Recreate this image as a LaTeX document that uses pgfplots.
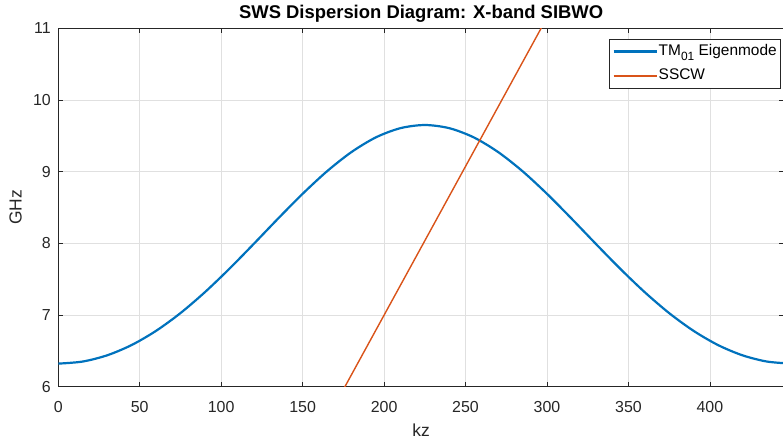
\documentclass[border=0pt]{standalone}
\usepackage{pgfplots}
\pgfplotsset{compat=1.18}
\usepackage{fontspec}
\setmainfont{Liberation Sans}
\definecolor{mblue}{rgb}{0,0.447,0.741}
\definecolor{morange}{rgb}{0.850,0.325,0.098}
\definecolor{axgray}{rgb}{0.15,0.15,0.15}
\begin{document}
\begin{tikzpicture}
\begin{axis}[
  name=ax,
  scale only axis,
  width=726bp, height=358.4bp,
  xmin=0, xmax=445.5, ymin=6, ymax=11,
  xtick={0,50,...,400}, ytick={6,7,...,11},
  grid=major,
  major grid style={color=black!12, line width=0.5bp},
  axis line style={color=axgray, line width=0.6bp},
  tick style={color=axgray, line width=0.6bp},
  tick align=inside,
  major tick length=5bp,
  /pgf/number format/assume math mode=true,
  ticklabel style={font=\fontsize{16}{19}\selectfont, text=axgray},
  xticklabel style={anchor=base, yshift=-26bp},
  yticklabel style={anchor=east, xshift=-4bp},
  title={SWS Dispersion Diagram: X-band SIBWO},
  title style={font=\bfseries\fontsize{18.5}{22}\selectfont, at={(axis description cs:0.5,1)}, anchor=base, yshift=4bp},
  xlabel={kz},
  ylabel={GHz},
  label style={font=\fontsize{17.5}{21}\selectfont, text=axgray},
  xlabel style={at={(axis description cs:0.5,0)}, anchor=base, yshift=-50.3bp},
  ylabel style={at={(axis description cs:0,0.5)}, rotate=0, anchor=base, yshift=36.6bp},
  legend cell align=left,
  legend style={at={(axis description cs:1,1)}, anchor=north east, xshift=-3bp, yshift=-11bp,
    font=\fontsize{15.5}{18}\selectfont, draw=axgray, line width=0.6bp, text=black,
    inner xsep=3bp, inner ysep=5bp, row sep=10.4bp,
    nodes={inner xsep=1bp, inner ysep=0bp, text height=11bp, text depth=3bp}},
  legend image code/.code={\draw[#1] (0bp,0bp) -- (43bp,0bp);},
]
\addplot[mblue, line width=2.2bp, smooth] coordinates {
(0,6.320) (15,6.349) (30,6.436) (45,6.579) (60,6.777) (75,7.025) (90,7.317) (105,7.643)
(120,7.991) (135,8.346) (150,8.690) (165,9.005) (180,9.273) (195,9.478) (210,9.606) (225,9.650)
(240,9.606) (255,9.478) (270,9.273) (285,9.005) (300,8.690) (315,8.346) (330,7.991) (345,7.643)
(360,7.317) (375,7.025) (390,6.777) (405,6.579) (420,6.436) (435,6.349) (450,6.320)
};
\addlegendentry{TM\raisebox{-0.6ex}{\fontsize{12}{13}\selectfont 01}\ Eigenmode\hspace{4bp}}
\addplot[morange, line width=1.4bp] coordinates {
(150,4.920) (310,11.565)
};
\addlegendentry{SSCW}
\end{axis}
\pgfresetboundingbox
\path[use as bounding box] ([xshift=-58.3bp,yshift=-56.3bp]ax.south west) rectangle ([xshift=-1bp,yshift=28.3bp]ax.north east);
\end{tikzpicture}
\end{document}
